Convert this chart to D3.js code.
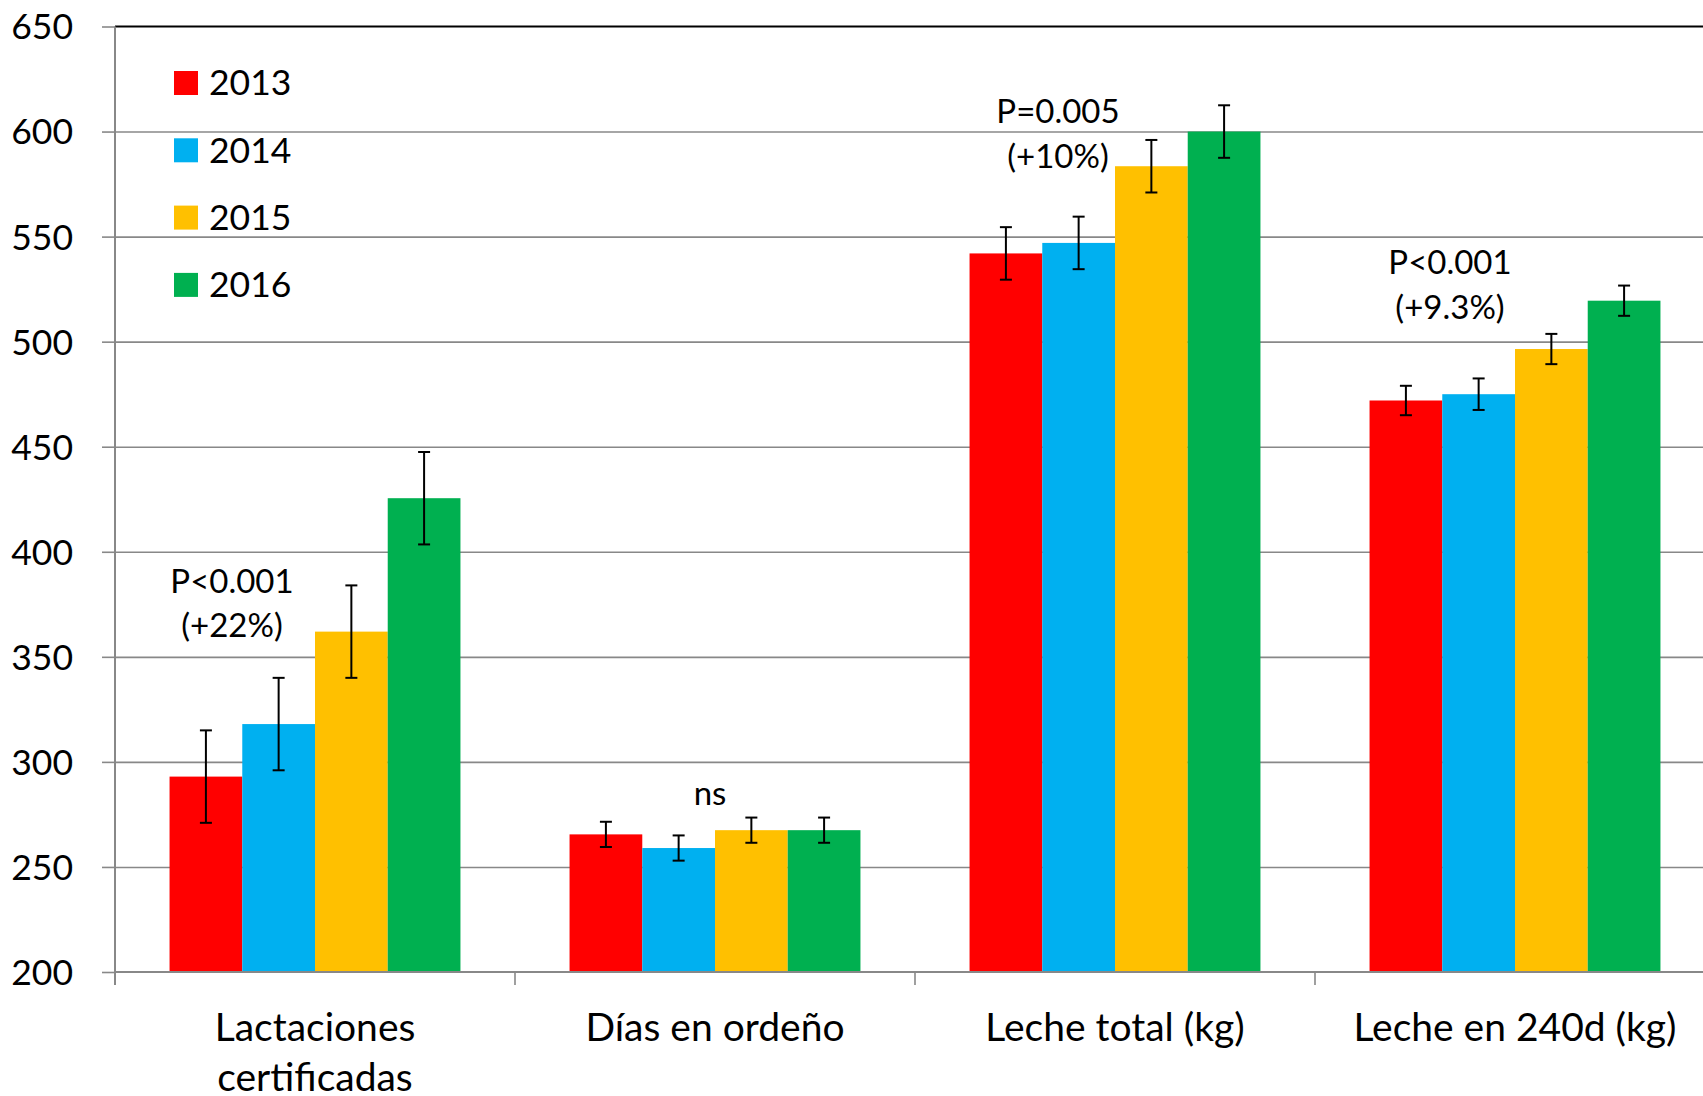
<!DOCTYPE html>
<html>
<head>
<meta charset="utf-8">
<script src="https://cdn.jsdelivr.net/npm/d3@7"></script>
<style>
  html, body { margin: 0; padding: 0; background: #fff; overflow: hidden; }
  svg { display: block; font-family: Lato, "Noto Sans", sans-serif; }
</style>
</head>
<body>
<svg id="chart" width="1703" height="1096"></svg>
<script>
// ---- data ----
const categories = ["Lactaciones certificadas", "Días en ordeño", "Leche total (kg)", "Leche en 240d (kg)"];
const categoryLines = [["Lactaciones", "certificadas"], ["Días en ordeño"], ["Leche total (kg)"], ["Leche en 240d (kg)"]];
const years = ["2013", "2014", "2015", "2016"];
const values2013 = [293, 265.5, 542, 472];
const values2014 = [318, 259, 547, 475];
const values2015 = [362, 267.5, 583.5, 496.5];
const values2016 = [425.5, 267.5, 600, 519.5];
const errors2013 = [22, 6, 12.5, 7];
const errors2014 = [22, 6, 12.5, 7.5];
const errors2015 = [22, 6, 12.5, 7.2];
const errors2016 = [22, 6, 12.5, 7.2];
const yTicks = [200, 250, 300, 350, 400, 450, 500, 550, 600, 650];
const annotationText = [["P<0.001", "(+22%)"], ["ns"], ["P=0.005", "(+10%)"], ["P<0.001", "(+9.3%)"]];
const annotationValue = [386, 285, 609.5, 537.6];
const colors = ["#FF0000", "#00B0F0", "#FFC000", "#00B050"];

const seriesValues = [values2013, values2014, values2015, values2016];
const seriesErrors = [errors2013, errors2014, errors2015, errors2016];

// ---- layout ----
const svg = d3.select("#chart");
const plotLeft = 115, plotRight = 1715, plotTop = 26.5, plotBottom = 972;
const annotationDx = [-83, -5, -57, -65];

const y = d3.scaleLinear().domain([200, 650]).range([plotBottom, plotTop]);
const x0 = d3.scaleBand().domain(categories).range([plotLeft, plotRight]).paddingInner(0).paddingOuter(0);
const x1 = d3.scaleBand().domain(years).range([0, x0.bandwidth()]).paddingInner(0).paddingOuter(0.75);
const color = d3.scaleOrdinal().domain(years).range(colors);

const gridColor = "#888888";
const mainFont = 35.5;
const catFont = 39;
const annFont = 33;

// gridlines
const grid = svg.append("g")
  .attr("transform", `translate(${plotLeft},0)`)
  .call(d3.axisLeft(y).tickValues(yTicks.filter(t => t !== 200 && t !== 650)).tickSize(-(plotRight - plotLeft)).tickFormat(""));
grid.select(".domain").remove();
grid.selectAll(".tick line").attr("stroke", gridColor).attr("stroke-width", 1.6);

// top border (black)
svg.append("line").attr("x1", plotLeft).attr("x2", plotRight).attr("y1", y(650)).attr("y2", y(650))
  .attr("stroke", "#000").attr("stroke-width", 2);

// bars
const groups = svg.append("g").selectAll("g").data(categories).join("g")
  .attr("transform", d => `translate(${x0(d)},0)`);

years.forEach((yr, si) => {
  groups.append("rect")
    .attr("x", x1(yr))
    .attr("width", x1.bandwidth())
    .attr("y", (d, ci) => y(seriesValues[si][ci]))
    .attr("height", (d, ci) => y(200) - y(seriesValues[si][ci]))
    .attr("fill", color(yr));
});

// error bars
const capW = 12;
years.forEach((yr, si) => {
  const cx = x1(yr) + x1.bandwidth() / 2;
  const eb = groups.append("g").attr("stroke", "#000").attr("stroke-width", 2).attr("fill", "none");
  eb.append("line").attr("x1", cx).attr("x2", cx)
    .attr("y1", (d, ci) => y(seriesValues[si][ci] + seriesErrors[si][ci]))
    .attr("y2", (d, ci) => y(seriesValues[si][ci] - seriesErrors[si][ci]));
  eb.append("line").attr("x1", cx - capW / 2).attr("x2", cx + capW / 2)
    .attr("y1", (d, ci) => y(seriesValues[si][ci] + seriesErrors[si][ci]))
    .attr("y2", (d, ci) => y(seriesValues[si][ci] + seriesErrors[si][ci]));
  eb.append("line").attr("x1", cx - capW / 2).attr("x2", cx + capW / 2)
    .attr("y1", (d, ci) => y(seriesValues[si][ci] - seriesErrors[si][ci]))
    .attr("y2", (d, ci) => y(seriesValues[si][ci] - seriesErrors[si][ci]));
});

// y axis
const yAxis = svg.append("g")
  .attr("transform", `translate(${plotLeft},0)`)
  .call(d3.axisLeft(y).tickValues(yTicks).tickSize(13).tickPadding(29).tickFormat(d3.format("d")));
yAxis.select(".domain").remove();
yAxis.selectAll(".tick line").attr("stroke", gridColor).attr("stroke-width", 1.6);
yAxis.selectAll(".tick text").attr("font-size", mainFont).attr("fill", "#000")
  .attr("font-family", "Lato, sans-serif").attr("dy", "0.35em");
svg.append("line").attr("x1", plotLeft).attr("x2", plotLeft).attr("y1", plotTop).attr("y2", plotBottom + 13)
  .attr("stroke", gridColor).attr("stroke-width", 2);

// x axis
svg.append("line").attr("x1", plotLeft).attr("x2", plotRight).attr("y1", plotBottom).attr("y2", plotBottom)
  .attr("stroke", gridColor).attr("stroke-width", 2);
svg.append("g").selectAll("line").data(categories.slice(1)).join("line")
  .attr("x1", d => x0(d)).attr("x2", d => x0(d))
  .attr("y1", plotBottom).attr("y2", plotBottom + 13)
  .attr("stroke", gridColor).attr("stroke-width", 1.6);

const catLabels = svg.append("g").selectAll("text").data(categories).join("text")
  .attr("text-anchor", "middle")
  .attr("font-size", catFont)
  .attr("fill", "#000")
  .attr("x", d => x0(d) + x0.bandwidth() / 2)
  .attr("y", 1027 + catFont * 0.35);
catLabels.each(function(d, i) {
  const t = d3.select(this);
  categoryLines[i].forEach((ln, li) => {
    t.append("tspan").attr("x", x0(d) + x0.bandwidth() / 2).attr("dy", li === 0 ? 0 : 50).text(ln);
  });
});

// annotations
categories.forEach((c, ci) => {
  const t = svg.append("text")
    .attr("text-anchor", "middle")
    .attr("font-size", annFont)
    .attr("fill", "#000")
    .attr("x", x0(c) + x0.bandwidth() / 2 + annotationDx[ci])
    .attr("y", y(annotationValue[ci]) + annFont * 0.35);
  annotationText[ci].forEach((ln, li) => {
    t.append("tspan").attr("x", x0(c) + x0.bandwidth() / 2 + annotationDx[ci])
      .attr("dy", li === 0 ? 0 : 44.5).text(ln);
  });
});

// legend
const legend = svg.append("g").selectAll("g").data(years).join("g")
  .attr("transform", (d, i) => `translate(174, ${71 + i * 67.3})`);
legend.append("rect").attr("width", 24).attr("height", 24).attr("fill", d => color(d));
legend.append("text").attr("x", 35).attr("y", 12 + mainFont * 0.35)
  .attr("font-size", mainFont).attr("fill", "#000").text(d => d);
</script>
</body>
</html>
